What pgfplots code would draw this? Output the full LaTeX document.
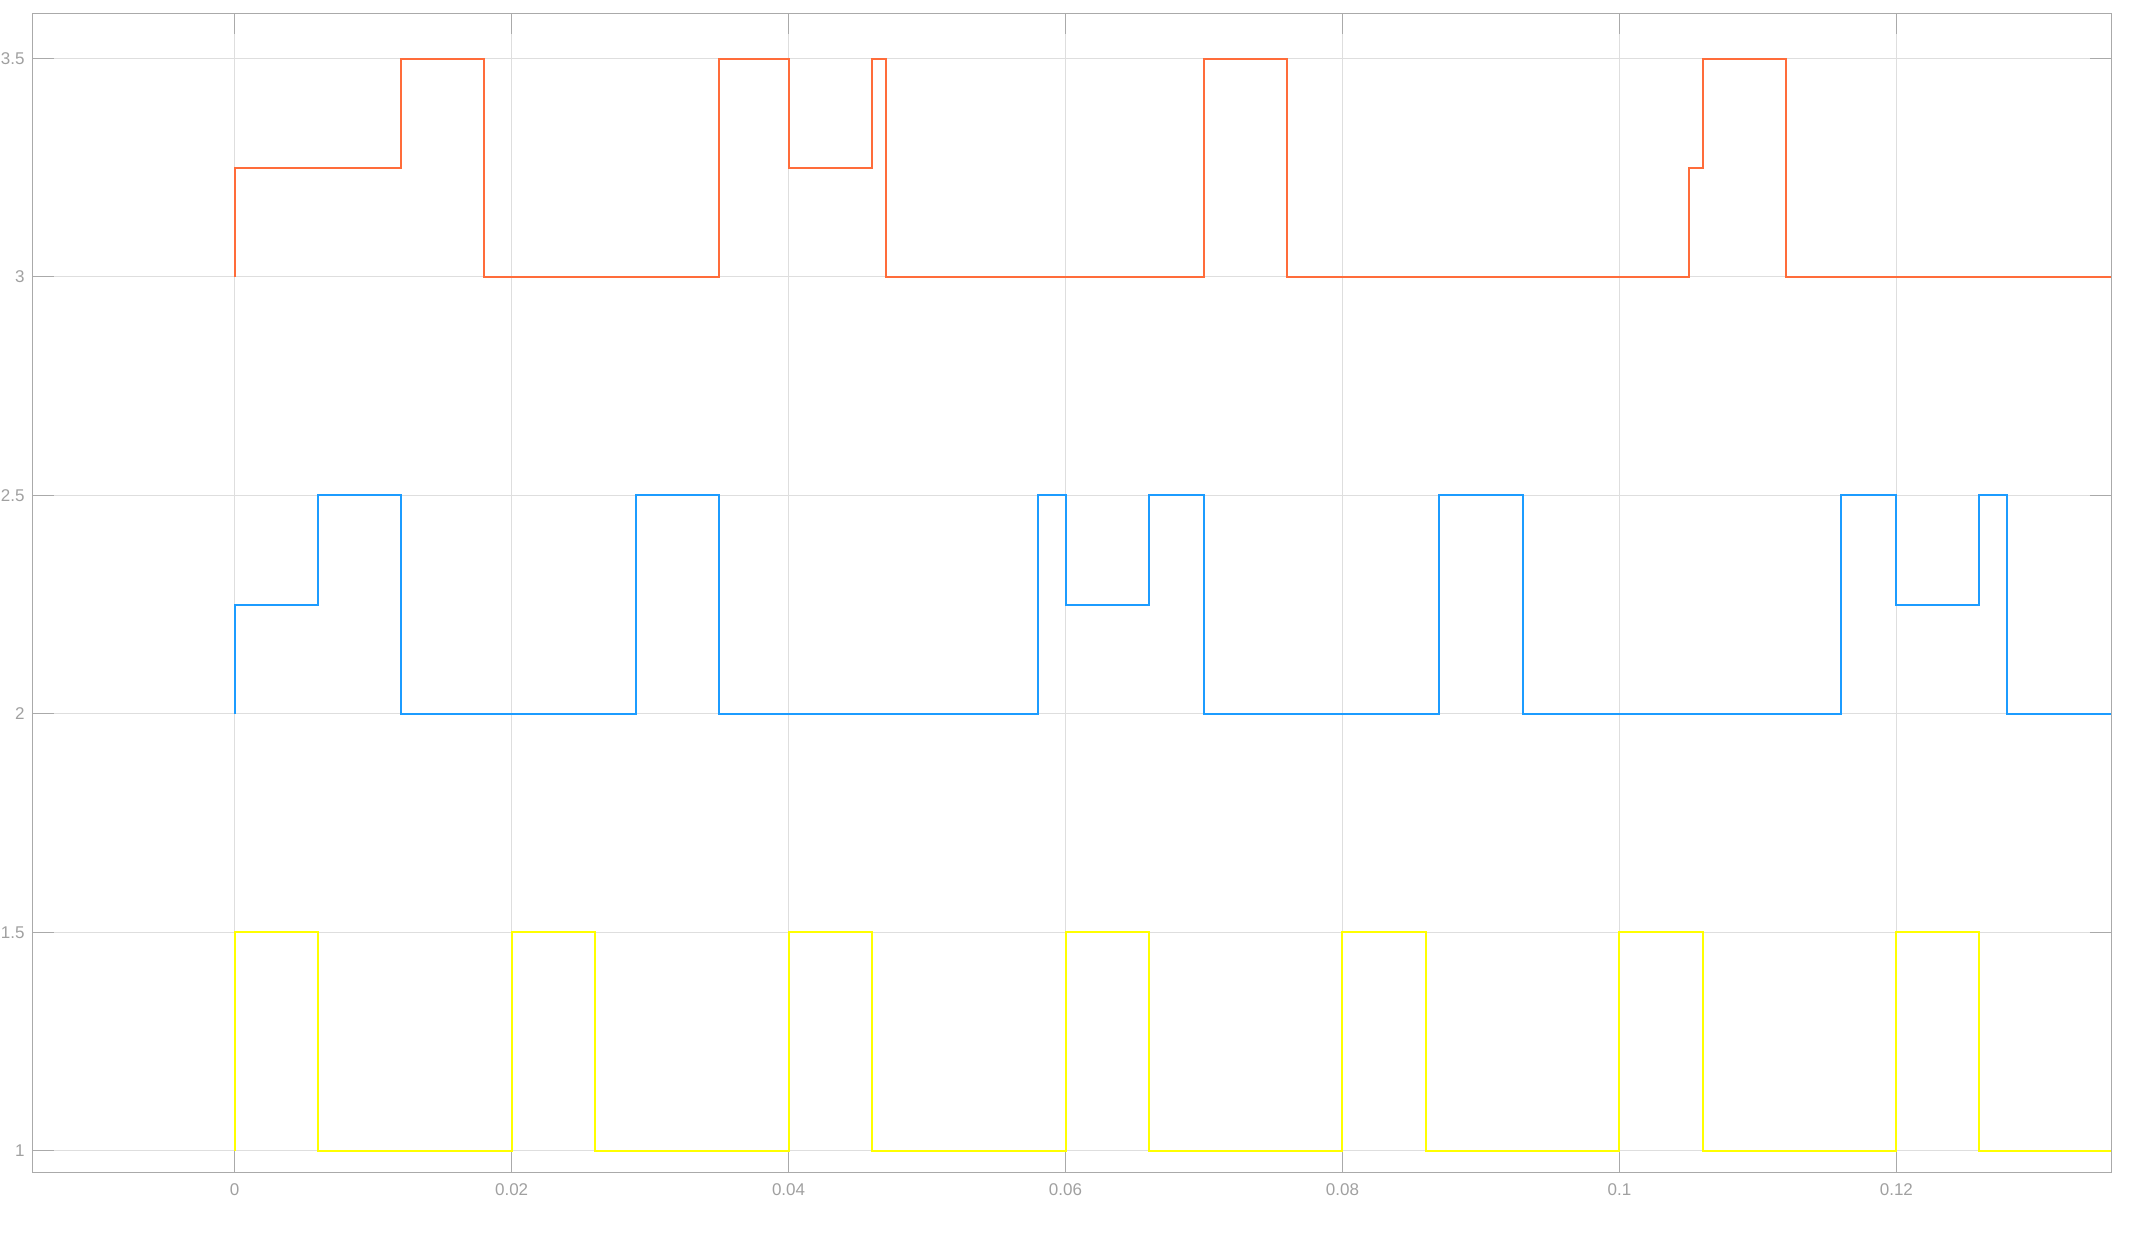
\documentclass[border=0pt]{standalone}
\usepackage{fontspec}
\setmainfont{Liberation Sans}
\usepackage{pgfplots}
\pgfplotsset{compat=1.18}

\definecolor{sigorange}{RGB}{255,108,58}
\definecolor{sigblue}{RGB}{28,156,255}
\definecolor{sigyellow}{RGB}{255,255,0}
\definecolor{gridgray}{RGB}{222,222,222}
\definecolor{axisgray}{RGB}{170,170,170}
\definecolor{labelgray}{RGB}{160,160,160}

\begin{document}
\begin{tikzpicture}
\begin{axis}[
  name=ax,
  scale only axis,
  width=1039.25pt, height=579.4pt,
  xmin=-0.0146, xmax=0.1355,
  ymin=0.951, ymax=3.603,
  xtick={0,0.02,0.04,0.06,0.08,0.1,0.12},
  xticklabels={0,0.02,0.04,0.06,0.08,0.1,0.12},
  ytick={1,1.5,2,2.5,3,3.5},
  yticklabels={1,1.5,2,2.5,3,3.5},
  scaled ticks=false,
  tick pos=both, tick align=inside,
  major tick length=10.5pt,
  every tick/.style={draw=axisgray, line width=0.5pt},
  axis line style={draw=axisgray, line width=0.5pt},
  grid=major, grid style={draw=gridgray, line width=0.5pt},
  tick label style={font=\fontsize{8.5}{10}\selectfont, text=labelgray},
  xticklabel style={inner sep=0pt, yshift=-5.5pt},
  yticklabel style={inner sep=0pt, xshift=-3.75pt},
  every axis plot/.append style={line width=1pt, const plot, mark=none},
]
% yellow signal
\addplot[sigyellow] coordinates {
  (0,1) (0,1.5) (0.006,1) (0.02,1.5) (0.026,1) (0.04,1.5) (0.046,1)
  (0.06,1.5) (0.066,1) (0.08,1.5) (0.086,1) (0.1,1.5) (0.106,1)
  (0.12,1.5) (0.126,1) (0.1355,1)};
% blue signal
\addplot[sigblue] coordinates {
  (0,2) (0,2.25) (0.006,2.5) (0.012,2) (0.029,2.5) (0.035,2)
  (0.058,2.5) (0.06,2.25) (0.066,2.5) (0.07,2) (0.087,2.5) (0.093,2)
  (0.116,2.5) (0.12,2.25) (0.126,2.5) (0.128,2) (0.1355,2)};
% orange signal
\addplot[sigorange] coordinates {
  (0,3) (0,3.25) (0.012,3.5) (0.018,3) (0.035,3.5) (0.04,3.25)
  (0.046,3.5) (0.047,3) (0.07,3.5) (0.076,3) (0.105,3.25) (0.106,3.5)
  (0.112,3) (0.1355,3)};
\end{axis}
\pgfresetboundingbox
\path[use as bounding box] ([xshift=-16.25pt,yshift=-30.85pt]ax.south west)
  rectangle ([xshift=13.5pt,yshift=6.75pt]ax.north east);
\end{tikzpicture}
\end{document}
